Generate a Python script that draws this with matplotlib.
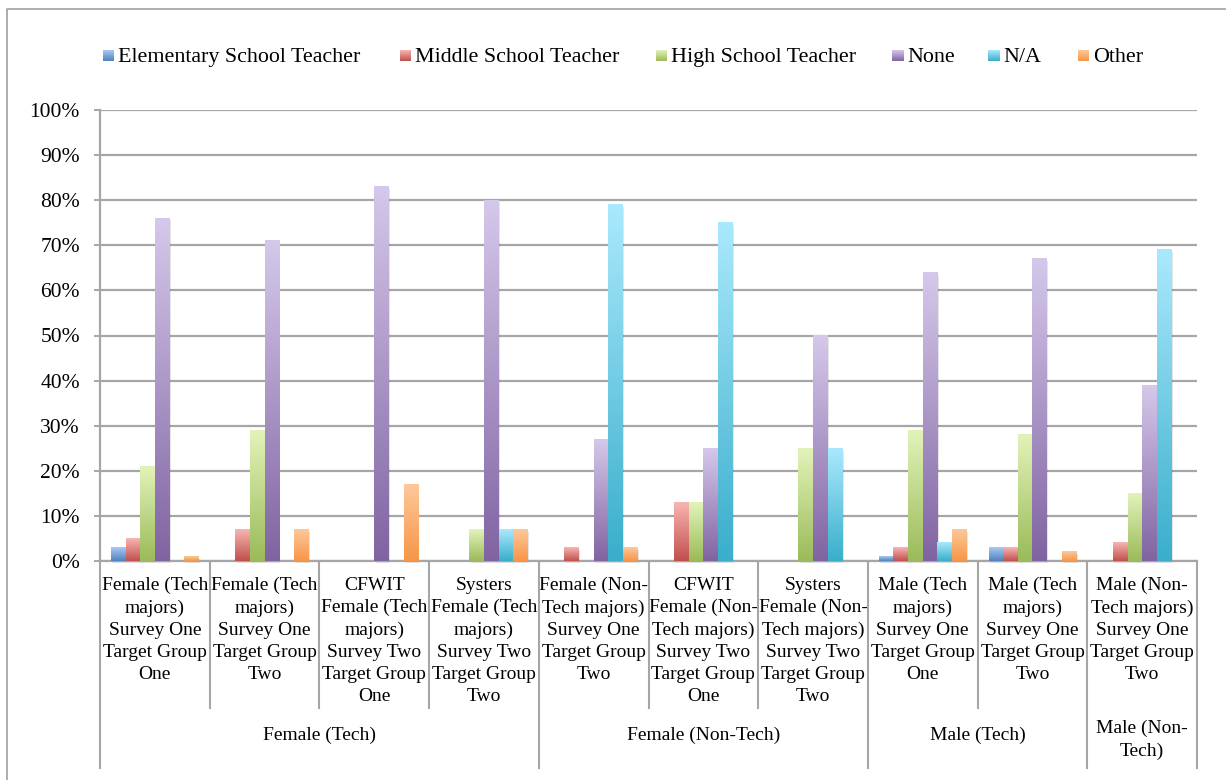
import numpy as np
import matplotlib
matplotlib.use("Agg")
import matplotlib.pyplot as plt
from matplotlib.colors import LinearSegmentedColormap
from matplotlib.lines import Line2D
from matplotlib.patches import Rectangle
import matplotlib.transforms as mtransforms

plt.rcParams["font.family"] = ["Liberation Serif", "DejaVu Serif"]

# ---------------- data ----------------
categories = [
    "Female (Tech\nmajors)\nSurvey One\nTarget Group\nOne",
    "Female (Tech\nmajors)\nSurvey One\nTarget Group\nTwo",
    "CFWIT\nFemale (Tech\nmajors)\nSurvey Two\nTarget Group\nOne",
    "Systers\nFemale (Tech\nmajors)\nSurvey Two\nTarget Group\nTwo",
    "Female (Non-\nTech majors)\nSurvey One\nTarget Group\nTwo",
    "CFWIT\nFemale (Non-\nTech majors)\nSurvey Two\nTarget Group\nOne",
    "Systers\nFemale (Non-\nTech majors)\nSurvey Two\nTarget Group\nTwo",
    "Male (Tech\nmajors)\nSurvey One\nTarget Group\nOne",
    "Male (Tech\nmajors)\nSurvey One\nTarget Group\nTwo",
    "Male (Non-\nTech majors)\nSurvey One\nTarget Group\nTwo",
]
groups = ["Female (Tech)", "Female (Non-Tech)", "Male (Tech)", "Male (Non-\nTech)"]
group_sizes = [4, 3, 2, 1]

series_names = ["Elementary School Teacher", "Middle School Teacher",
                "High School Teacher", "None", "N/A", "Other"]
elementary = [3, 0, 0, 0, 0, 0, 0, 1, 3, 0]
middle = [5, 7, 0, 0, 3, 13, 0, 3, 3, 4]
high = [21, 29, 0, 7, 0, 13, 25, 29, 28, 15]
none = [76, 71, 83, 80, 27, 25, 50, 64, 67, 39]
na = [0, 0, 0, 7, 79, 75, 25, 4, 0, 69]
other = [1, 7, 17, 7, 3, 0, 0, 7, 2, 0]
series_values = [elementary, middle, high, none, na, other]

# gradient (bottom dark -> top light), Excel-style
grad_colors = [
    ("#4f81bd", "#a9caf2"),
    ("#c0504d", "#f8b5b2"),
    ("#9bbb59", "#e2f3b9"),
    ("#8064a2", "#d5c8ea"),
    ("#3aaecb", "#aae9fd"),
    ("#f79646", "#fdc89b"),
]
cmaps = [LinearSegmentedColormap.from_list(f"g{i}", c) for i, c in enumerate(grad_colors)]
GRID = "#a6a6a6"
W, H = 1226, 780
FS_CAT, LS = 14, 1.39


def fy(py):
    return 1 - py / H


fig = plt.figure(figsize=(W / 100, H / 100), dpi=100)
ax = fig.add_axes([100 / W, fy(561), 1097 / W, (561 - 110) / H])

x = np.arange(len(categories))
n = len(series_values)
bw = 0.8 / n
grad = np.linspace(0, 1, 128).reshape(-1, 1)

for i, vals in enumerate(series_values):
    bars = ax.bar(x - 0.4 + bw * (i + 0.5), vals, bw, color="none",
                  edgecolor="none", label=series_names[i])
    for rect in bars:
        h = rect.get_height()
        if h <= 0:
            continue
        x0 = rect.get_x()
        # soft shadow
        ax.add_patch(Rectangle((x0 + 0.012, -0.5), bw, h, facecolor="black",
                               alpha=0.10, edgecolor="none", zorder=2.5, clip_on=False))
        ax.imshow(grad, extent=[x0, x0 + bw, 0, h], cmap=cmaps[i], aspect="auto",
                  origin="lower", zorder=3, interpolation="bilinear")

ax.set_xlim(-0.5, len(categories) - 0.5)
ax.set_ylim(0, 100)
ax.set_yticks(range(0, 101, 10))
ax.set_yticklabels([f"{v}%" for v in range(0, 101, 10)])
ax.set_xticks([])
ax.yaxis.grid(True, color=GRID, linewidth=1.6)
ax.set_axisbelow(True)
for s in ("top", "right"):
    ax.spines[s].set_visible(False)
for s in ("left", "bottom"):
    ax.spines[s].set_color(GRID)
    ax.spines[s].set_linewidth(1.6)
ax.tick_params(axis="y", length=4.5, width=1.4, color=GRID, pad=10, labelsize=15.5)

# ---------------- multi-level category axis ----------------
bt = mtransforms.blended_transform_factory(ax.transData, fig.transFigure)
for i, lab in enumerate(categories):
    ax.text(i, fy(577), lab, transform=bt, ha="center", va="top",
            fontsize=FS_CAT, linespacing=LS, clip_on=False)

bounds = np.concatenate([[0], np.cumsum(group_sizes)]) - 0.5
for b in np.arange(0.5, len(categories) - 1):
    if b in bounds:
        continue
    fig.add_artist(Line2D([b, b], [fy(561), fy(708)], transform=bt, color=GRID, lw=1.5))
for b in bounds:
    fig.add_artist(Line2D([b, b], [fy(561), fy(768)], transform=bt, color=GRID, lw=1.5))
for g, lab in enumerate(groups):
    cx = (bounds[g] + bounds[g + 1]) / 2
    nl = lab.count("\n")
    ax.text(cx, fy(735 + 5 * nl), lab, transform=bt, ha="center", va="center",
            fontsize=FS_CAT, linespacing=LS, clip_on=False)

# ---------------- legend ----------------
sq_x = [103, 400, 656, 892, 988, 1078]
for i, name in enumerate(series_names):
    lax = fig.add_axes([sq_x[i] / W, fy(61), 11 / W, 11 / H])
    lax.imshow(grad, cmap=cmaps[i], aspect="auto", origin="lower", extent=[0, 1, 0, 1])
    lax.axis("off")
    fig.text((sq_x[i] + 15) / W, fy(62), name, ha="left", va="baseline", fontsize=FS_CAT + 1.8)

# ---------------- outer frame ----------------
fig.add_artist(Line2D([7 / W, 7 / W, 1], [0, fy(9), fy(9)], transform=fig.transFigure,
                      color="#a0a0a0", lw=1.2))

fig.savefig("out.png", dpi=100, facecolor="white")
